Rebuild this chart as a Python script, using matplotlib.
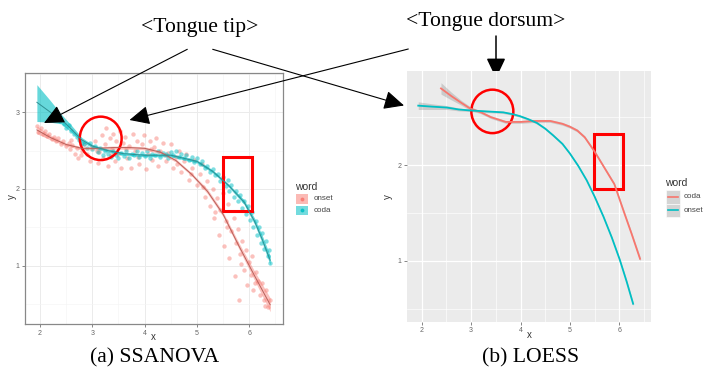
import matplotlib
matplotlib.use("Agg")
from matplotlib import pyplot as plt
from matplotlib.patches import Ellipse, Rectangle
from matplotlib.lines import Line2D

W, H = 705, 367
RED = '#F8766D'
TEAL = '#00BFC4'

# ---- (a) SSANOVA: fitted curves with ribbons
onset_x = [1.94, 2.2, 2.5, 2.8, 3.1, 3.4, 3.7, 4.0, 4.3, 4.6, 4.9, 5.2, 5.5, 5.8, 6.1, 6.4]
onset_fit = [2.77, 2.67, 2.58, 2.53, 2.53, 2.54, 2.54, 2.53, 2.48, 2.37, 2.19, 1.97, 1.67, 1.26, 0.87, 0.49]
onset_hw = [0.05, 0.03, 0.02, 0.02, 0.02, 0.02, 0.02, 0.02, 0.02, 0.02, 0.02, 0.03, 0.03, 0.04, 0.06, 0.09]

coda_x = [1.94, 2.2, 2.4, 2.6, 2.8, 3.0, 3.3, 3.6, 4.0, 4.5, 5.0, 5.3, 5.6, 5.9, 6.1, 6.25, 6.4]
coda_fit = [3.13, 3.00, 2.91, 2.78, 2.64, 2.56, 2.50, 2.46, 2.44, 2.44, 2.36, 2.23, 2.05, 1.83, 1.58, 1.34, 1.07]
coda_hi = [3.36, 3.15, 2.98, 2.83, 2.67, 2.58, 2.52, 2.48, 2.46, 2.46, 2.38, 2.25, 2.07, 1.86, 1.62, 1.39, 1.13]
coda_lo = [2.88, 2.87, 2.85, 2.74, 2.61, 2.54, 2.48, 2.44, 2.42, 2.42, 2.34, 2.21, 2.03, 1.80, 1.54, 1.29, 1.01]

# raw points
onset_pts = [
    (1.95, 2.82), (1.97, 2.74), (2.02, 2.79), (2.05, 2.72), (2.1, 2.76), (2.14, 2.69), (2.18, 2.72),
    (2.22, 2.65), (2.27, 2.68), (2.3, 2.62), (2.35, 2.66), (2.4, 2.58), (2.44, 2.62), (2.5, 2.56),
    (2.55, 2.60), (2.58, 2.52), (2.62, 2.57), (2.66, 2.45), (2.7, 2.54), (2.72, 2.40),
    (2.8, 2.50), (2.85, 2.58), (2.9, 2.45), (2.95, 2.36), (3.0, 2.55), (3.05, 2.62), (3.1, 2.34),
    (3.12, 2.48), (3.18, 2.70), (3.2, 2.40), (3.25, 2.58), (3.27, 2.80), (3.3, 2.30), (3.33, 2.66),
    (3.37, 2.52), (3.4, 2.72), (3.43, 2.36), (3.46, 2.62), (3.5, 2.45), (3.52, 2.76), (3.55, 2.28),
    (3.58, 2.60), (3.62, 2.68), (3.66, 2.40), (3.7, 2.56), (3.74, 2.27), (3.78, 2.72), (3.82, 2.50),
    (3.86, 2.63), (3.9, 2.33), (3.94, 2.58), (3.98, 2.70), (4.02, 2.26), (4.06, 2.46), (4.1, 2.62),
    (4.14, 2.38), (4.18, 2.55), (4.22, 2.66), (4.26, 2.30), (4.3, 2.50), (4.35, 2.60), (4.4, 2.36),
    (4.45, 2.47), (4.5, 2.58), (4.55, 2.28), (4.6, 2.42), (4.65, 2.50), (4.7, 2.22), (4.75, 2.36),
    (4.8, 2.45), (4.85, 2.12), (4.9, 2.28), (4.95, 2.38), (5.0, 2.05), (5.05, 2.20), (5.1, 2.32),
    (5.15, 1.90), (5.2, 2.10), (5.25, 1.78), (5.3, 2.00), (5.32, 1.62), (5.38, 1.88), (5.42, 1.40),
    (5.45, 1.72), (5.5, 1.95), (5.52, 1.26), (5.56, 1.58), (5.6, 1.80), (5.62, 1.10), (5.65, 1.45),
    (5.7, 1.62), (5.72, 0.86), (5.75, 1.30), (5.78, 1.48), (5.8, 0.55), (5.83, 1.15), (5.86, 1.32),
    (5.9, 0.95), (5.93, 1.20), (5.96, 0.75), (6.0, 1.05), (6.03, 0.88), (6.06, 1.12), (6.08, 0.68),
    (6.12, 0.92), (6.16, 0.80), (6.2, 0.62), (6.24, 0.78), (6.28, 0.55), (6.32, 0.68), (6.36, 0.46),
    (6.4, 0.55), (2.6, 2.64), (2.78, 2.44), (3.08, 2.50), (3.35, 2.44), (3.64, 2.52), (3.88, 2.42),
    (4.12, 2.52), (4.38, 2.44), (4.62, 2.32), (4.88, 2.20), (5.12, 2.02), (5.35, 1.70), (5.58, 1.50),
    (5.84, 1.02), (6.1, 0.78), (6.3, 0.48),
]
coda_pts = [
    (2.32, 2.92), (2.38, 2.88), (2.45, 2.85), (2.5, 2.80), (2.55, 2.84), (2.6, 2.76), (2.65, 2.72),
    (2.7, 2.68), (2.75, 2.64), (2.8, 2.60), (2.85, 2.58), (2.9, 2.54), (2.95, 2.60), (3.0, 2.52),
    (3.05, 2.56), (3.1, 2.48), (3.15, 2.53), (3.2, 2.44), (3.25, 2.50), (3.3, 2.46), (3.35, 2.42),
    (3.4, 2.49), (3.45, 2.44), (3.5, 2.40), (3.55, 2.47), (3.6, 2.43), (3.65, 2.49), (3.7, 2.41),
    (3.75, 2.46), (3.8, 2.44), (3.85, 2.50), (3.9, 2.42), (3.95, 2.47), (4.0, 2.43), (4.05, 2.49),
    (4.1, 2.41), (4.15, 2.46), (4.2, 2.44), (4.25, 2.50), (4.3, 2.42), (4.35, 2.47), (4.4, 2.45),
    (4.45, 2.41), (4.5, 2.48), (4.55, 2.44), (4.6, 2.50), (4.65, 2.42), (4.7, 2.46), (4.75, 2.40),
    (4.8, 2.44), (4.85, 2.38), (4.9, 2.42), (4.95, 2.35), (5.0, 2.40), (5.05, 2.32), (5.1, 2.36),
    (5.15, 2.28), (5.2, 2.30), (5.25, 2.22), (5.3, 2.26), (5.35, 2.18), (5.4, 2.20), (5.45, 2.10),
    (5.5, 2.15), (5.55, 2.04), (5.6, 2.12), (5.62, 1.98), (5.66, 2.05), (5.7, 1.90), (5.74, 1.98),
    (5.78, 1.84), (5.82, 1.92), (5.86, 1.75), (5.9, 1.84), (5.94, 1.68), (5.98, 1.78), (6.02, 1.60),
    (6.05, 1.70), (6.08, 1.50), (6.12, 1.58), (6.15, 1.40), (6.18, 1.50), (6.22, 1.30), (6.25, 1.42),
    (6.28, 1.22), (6.32, 1.32), (6.35, 1.12), (6.38, 1.20), (6.4, 1.04),
]

# ---- (b) LOESS curves
l_coda_x = [2.39, 2.6, 2.8, 2.98, 3.2, 3.4, 3.7, 4.0, 4.3, 4.6, 4.85, 5.0, 5.15, 5.3, 5.5, 5.7, 5.9, 6.1, 6.25, 6.42]
l_coda_y = [2.80, 2.72, 2.65, 2.59, 2.55, 2.50, 2.45, 2.45, 2.46, 2.46, 2.43, 2.40, 2.36, 2.29, 2.14, 1.97, 1.80, 1.50, 1.28, 1.02]
l_coda_hw = [0.06, 0.04, 0.025, 0.02, 0.015, 0.015, 0.015, 0.015, 0.015, 0.015, 0.015, 0.015, 0.015, 0.015,
             0.015, 0.015, 0.015, 0.02, 0.02, 0.025]
l_onset_x = [1.93, 2.2, 2.51, 2.75, 2.98, 3.3, 3.65, 3.85, 3.99, 4.15, 4.33, 4.5, 4.66, 4.85, 5.0, 5.17, 5.34,
             5.5, 5.68, 5.85, 6.01, 6.15, 6.28]
l_onset_y = [2.62, 2.61, 2.60, 2.58, 2.57, 2.56, 2.55, 2.53, 2.51, 2.48, 2.44, 2.38, 2.31, 2.22, 2.12, 1.99, 1.84,
             1.67, 1.46, 1.24, 1.01, 0.78, 0.55]
l_onset_hw = [0.04, 0.03, 0.02, 0.015, 0.012, 0.012, 0.012, 0.012, 0.012, 0.012, 0.012, 0.012, 0.012, 0.012,
              0.012, 0.012, 0.012, 0.012, 0.012, 0.015, 0.015, 0.02, 0.02]

xticks = [2, 3, 4, 5, 6]
yticks = [1, 2, 3]


def px_axes(fig, l, t, r, b):
    return fig.add_axes([l / W, (H - b) / H, (r - l) / W, (b - t) / H])


def band(xs, ys, hw, sign):
    return [y + sign * h for y, h in zip(ys, hw)]


fig = plt.figure(figsize=(W / 100, H / 100), dpi=100)
sans = 'Liberation Sans'
serif = 'Liberation Serif'

# ================= left panel (theme_bw look)
ax1 = px_axes(fig, 25, 72.7, 282.7, 324)
ax1.set_xlim(1.713, 6.639)
ax1.set_ylim(0.240, 3.516)
ax1.set_xticks(xticks)
ax1.set_yticks(yticks)
ax1.set_xticks([2.5, 3.5, 4.5, 5.5, 6.5], minor=True)
ax1.set_yticks([0.5, 1.5, 2.5, 3.5], minor=True)
ax1.grid(which='major', color='#ebebeb', lw=0.7)
ax1.grid(which='minor', color='#f4f4f4', lw=0.4)
ax1.set_axisbelow(True)
for s in ax1.spines.values():
    s.set_color('#888888')
    s.set_linewidth(0.9)

ax1.scatter([p[0] for p in onset_pts], [p[1] for p in onset_pts], s=10, color=RED, alpha=0.45, lw=0)
ax1.scatter([p[0] for p in coda_pts], [p[1] for p in coda_pts], s=10, color=TEAL, alpha=0.5, lw=0)
ax1.fill_between(onset_x, band(onset_x, onset_fit, onset_hw, -1), band(onset_x, onset_fit, onset_hw, 1),
                 color=RED, alpha=0.45, lw=0)
ax1.fill_between(coda_x, coda_lo, coda_hi, color=TEAL, alpha=0.6, lw=0)
ax1.plot(onset_x, onset_fit, color='#b8605a', lw=0.7)
ax1.plot(coda_x, coda_fit, color='#2f8f92', lw=0.7)

ax1.add_patch(Ellipse((3.16, 2.66), 0.80, 0.566, fill=False, ec='red', lw=1.8))
ax1.add_patch(Rectangle((5.49, 1.71), 0.56, 0.71, fill=False, ec='red', lw=2.2))

# ================= right panel (theme_gray look)
ax2 = px_axes(fig, 406.7, 71, 651, 321.7)
ax2.set_xlim(1.696, 6.642)
ax2.set_ylim(0.363, 2.982)
ax2.set_facecolor('#ebebeb')
ax2.set_xticks(xticks)
ax2.set_yticks([1, 2])
ax2.set_xticks([2.5, 3.5, 4.5, 5.5, 6.5], minor=True)
ax2.set_yticks([0.5, 1.5, 2.5], minor=True)
ax2.grid(which='major', color='white', lw=0.9)
ax2.grid(which='minor', color='white', lw=0.45)
ax2.set_axisbelow(True)
for s in ax2.spines.values():
    s.set_visible(False)

ax2.fill_between(l_coda_x, band(l_coda_x, l_coda_y, l_coda_hw, -1), band(l_coda_x, l_coda_y, l_coda_hw, 1),
                 color='#999999', alpha=0.4, lw=0)
ax2.fill_between(l_onset_x, band(l_onset_x, l_onset_y, l_onset_hw, -1),
                 band(l_onset_x, l_onset_y, l_onset_hw, 1), color='#999999', alpha=0.4, lw=0)
ax2.plot(l_coda_x, l_coda_y, color=RED, lw=1.3)
ax2.plot(l_onset_x, l_onset_y, color=TEAL, lw=1.3)

ax2.add_patch(Ellipse((3.43, 2.56), 0.85, 0.454, fill=False, ec='red', lw=1.8))
ax2.add_patch(Rectangle((5.48, 1.75), 0.60, 0.57, fill=False, ec='red', lw=2.2))

for ax in (ax1, ax2):
    ax.tick_params(which='major', length=2, width=0.5, color='#555555', labelsize=5, labelcolor='#666666',
                   pad=2)
    ax.tick_params(which='minor', length=0)
    for lab in ax.get_xticklabels() + ax.get_yticklabels():
        lab.set_family(sans)

# axis titles
fig.text(153 / W, (H - 337) / H, 'x', ha='center', va='center', fontsize=7, color='#333333', family=sans)
fig.text(11.7 / W, (H - 196.7) / H, 'y', ha='center', va='center', fontsize=7, color='#333333',
         rotation=90, family=sans)
fig.text(529 / W, (H - 335) / H, 'x', ha='center', va='center', fontsize=7, color='#333333', family=sans)
fig.text(388 / W, (H - 196.7) / H, 'y', ha='center', va='center', fontsize=7, color='#333333',
         rotation=90, family=sans)

# ---- legends
fig.text(295.5 / W, (H - 186.5) / H, 'word', ha='left', va='center', fontsize=7.5, color='#333333',
         family=sans)
for i, (lab, col, a) in enumerate([('onset', RED, 0.5), ('coda', TEAL, 0.55)]):
    y0 = 194 + i * 11.7
    fig.add_artist(Rectangle((295.7 / W, (H - y0 - 9.5) / H), 12.6 / W, 9.5 / H, transform=fig.transFigure,
                             fc=col, alpha=a, lw=0))
    fig.add_artist(Line2D([302 / W], [(H - y0 - 4.75) / H], transform=fig.transFigure, marker='o', ms=1.8,
                          color=col, alpha=0.8, lw=0))
    fig.text(313.5 / W, (H - y0 - 4.8) / H, lab, ha='left', va='center', fontsize=5.8, color='#444444',
             family=sans)

fig.text(665 / W, (H - 183) / H, 'word', ha='left', va='center', fontsize=7.5, color='#333333', family=sans)
for i, (lab, col) in enumerate([('coda', RED), ('onset', TEAL)]):
    y0 = 190 + i * 13.5
    fig.add_artist(Rectangle((665.5 / W, (H - y0 - 13.5) / H), 14.5 / W, 13.5 / H, transform=fig.transFigure,
                             fc='#d4d4d4', ec='white', lw=0.4))
    fig.add_artist(Line2D([667.5 / W, 678 / W], [(H - y0 - 6.75) / H] * 2, transform=fig.transFigure,
                          color=col, lw=1.2))
    fig.text(684 / W, (H - y0 - 6.9) / H, lab, ha='left', va='center', fontsize=5.8, color='#444444',
             family=sans)

# ---- annotations
fig.text(200 / W, (H - 32) / H, '<Tongue tip>', ha='center', va='baseline', fontsize=15.6, family=serif)
fig.text(486 / W, (H - 25.7) / H, '<Tongue dorsum>', ha='center', va='baseline', fontsize=15.6, family=serif)
fig.text(155 / W, (H - 362) / H, '(a) SSANOVA', ha='center', va='baseline', fontsize=15.6, family=serif)
fig.text(531 / W, (H - 362) / H, '(b) LOESS', ha='center', va='baseline', fontsize=15.6, family=serif)

arrows = [
    ((187.3, 49.3), (44, 123), 0.8),
    ((212.7, 49.3), (404, 105.5), 0.8),
    ((408.3, 49), (129.5, 120), 0.8),
    ((496, 36), (496, 78.3), 1.1),
]
for (x0, y0), (x1, y1), lw in arrows:
    ax1.annotate('', xy=(x1, H - y1), xycoords='figure pixels', xytext=(x0, H - y0),
                 textcoords='figure pixels', annotation_clip=False,
                 arrowprops=dict(arrowstyle='-|>,head_length=0.95,head_width=0.45', color='black', lw=lw,
                                 shrinkA=0, shrinkB=0, mutation_scale=13))

fig.savefig('out.png', dpi=100)
plt.close(fig)
